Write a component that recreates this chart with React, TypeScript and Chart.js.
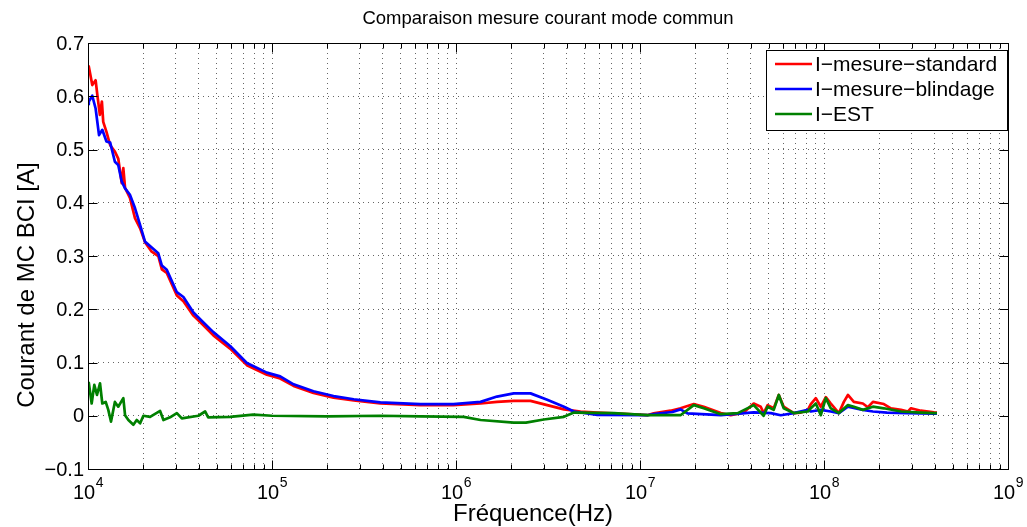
import React, { useEffect, useRef } from "react";
import { Chart, registerables } from "chart.js";

Chart.register(...registerables);

const FONT = "'Liberation Sans', Arial, Helvetica, sans-serif";

const titleText = "Comparaison mesure courant mode commun";
const xAxisLabel = "Fréquence(Hz)";
const yAxisLabel = "Courant de MC BCI [A]";
const seriesNames = ["I−mesure−standard", "I−mesure−blindage", "I−EST"];
const seriesColors = ["#ff0000", "#0000ff", "#008000"];

const xTickExponents = [4, 5, 6, 7, 8, 9];
const yTickValues = [-0.1, 0, 0.1, 0.2, 0.3, 0.4, 0.5, 0.6, 0.7];
const yTickLabels = ["−0.1", "0", "0.1", "0.2", "0.3", "0.4", "0.5", "0.6", "0.7"];

const freqStandard = [1.0e4, 1.01e4, 1.055e4, 1.1e4, 1.13e4, 1.16e4, 1.19e4, 1.21e4, 1.26e4, 1.32e4, 1.4e4, 1.46e4, 1.525e4, 1.556e4, 1.59e4, 1.69e4, 1.8e4, 1.92e4, 2.04e4, 2.22e4, 2.41e4, 2.52e4, 2.68e4, 3.04e4, 3.3e4, 3.74e4, 4.24e4, 4.8e4, 5.92e4, 7.3e4, 9.38e4, 1.108e5, 1.31e5, 1.68e5, 2.16e5, 2.78e5, 3.88e5, 6.4e5, 9.68e5, 1.36e6, 1.67e6, 2.06e6, 2.54e6, 3.13e6, 3.86e6, 4.75e6, 5.86e6, 7.21e6, 1.096e7, 1.186e7, 1.466e7, 1.66e7, 1.96e7, 2.22e7, 2.75e7, 3.11e7, 3.66e7, 4.15e7, 4.53e7, 4.7e7, 4.94e7, 5.33e7, 5.68e7, 6.04e7, 6.85e7, 7.48e7, 8.17e7, 8.48e7, 9.03e7, 9.61e7, 1.023e8, 1.089e8, 1.205e8, 1.282e8, 1.349e8, 1.453e8, 1.626e8, 1.731e8, 1.845e8, 2.115e8, 2.31e8, 2.62e8, 2.86e8, 2.97e8, 3.36e8, 3.96e8, 4.11e8];
const valStandard = [0.652, 0.656, 0.621, 0.630, 0.596, 0.565, 0.590, 0.552, 0.533, 0.508, 0.496, 0.483, 0.437, 0.465, 0.428, 0.409, 0.371, 0.352, 0.326, 0.308, 0.300, 0.275, 0.268, 0.226, 0.215, 0.188, 0.170, 0.151, 0.126, 0.095, 0.077, 0.070, 0.056, 0.043, 0.034, 0.029, 0.023, 0.020, 0.020, 0.023, 0.026, 0.028, 0.028, 0.020, 0.012, 0.008, 0.006, 0.0046, 0.001, 0.0046, 0.0095, 0.014, 0.022, 0.017, 0.005, 0.001, 0.006, 0.023, 0.017, 0.005, 0.020, 0.014, 0.039, 0.017, 0.005, 0.006, 0.011, 0.022, 0.033, 0.017, 0.035, 0.023, 0.005, 0.026, 0.039, 0.026, 0.023, 0.016, 0.026, 0.022, 0.014, 0.011, 0.008, 0.014, 0.0095, 0.0065, 0.006];

const freqShield = [1.0e4, 1.01e4, 1.055e4, 1.1e4, 1.148e4, 1.196e4, 1.26e4, 1.32e4, 1.4e4, 1.46e4, 1.525e4, 1.59e4, 1.69e4, 1.8e4, 1.92e4, 2.04e4, 2.22e4, 2.41e4, 2.52e4, 2.68e4, 3.04e4, 3.3e4, 3.74e4, 4.24e4, 4.8e4, 5.92e4, 7.3e4, 9.38e4, 1.108e5, 1.31e5, 1.68e5, 2.16e5, 2.78e5, 3.88e5, 6.4e5, 9.68e5, 1.36e6, 1.67e6, 2.06e6, 2.54e6, 3.13e6, 3.86e6, 4.37e6, 5.86e6, 1.096e7, 1.186e7, 1.5e7, 1.66e7, 1.81e7, 2.75e7, 4.15e7, 5.14e7, 5.82e7, 6.85e7, 8.17e7, 8.48e7, 9.61e7, 1.089e8, 1.205e8, 1.349e8, 1.626e8, 1.845e8, 2.2e8, 2.86e8, 3.96e8, 4.11e8];
const valShield = [0.585, 0.590, 0.601, 0.577, 0.527, 0.537, 0.515, 0.513, 0.477, 0.471, 0.440, 0.427, 0.415, 0.390, 0.358, 0.327, 0.316, 0.305, 0.282, 0.274, 0.232, 0.223, 0.194, 0.175, 0.157, 0.131, 0.099, 0.081, 0.074, 0.059, 0.046, 0.037, 0.031, 0.025, 0.022, 0.022, 0.026, 0.036, 0.042, 0.042, 0.030, 0.017, 0.008, 0.0014, 0.001, 0.003, 0.007, 0.012, 0.0046, 0.001, 0.0065, 0.005, 0.001, 0.005, 0.011, 0.008, 0.011, 0.008, 0.005, 0.017, 0.011, 0.008, 0.006, 0.005, 0.004, 0.004];

const freqEst = [1.0e4, 1.01e4, 1.047e4, 1.082e4, 1.119e4, 1.162e4, 1.196e4, 1.248e4, 1.289e4, 1.334e4, 1.4e4, 1.46e4, 1.556e4, 1.59e4, 1.657e4, 1.764e4, 1.84e4, 1.92e4, 2.0e4, 2.175e4, 2.465e4, 2.57e4, 2.793e4, 3.04e4, 3.235e4, 3.98e4, 4.33e4, 4.5e4, 5.92e4, 7.9e4, 1.0e5, 2.0e5, 3.88e5, 6.4e5, 1.1e6, 1.36e6, 2.06e6, 2.4e6, 3.0e6, 3.86e6, 4.37e6, 7.21e6, 1.096e7, 1.66e7, 1.96e7, 2.22e7, 2.75e7, 3.4e7, 4.15e7, 4.7e7, 4.94e7, 5.33e7, 5.68e7, 6.04e7, 6.85e7, 8.17e7, 8.48e7, 9.03e7, 9.61e7, 1.023e8, 1.089e8, 1.205e8, 1.349e8, 1.453e8, 1.626e8, 1.845e8, 2.115e8, 2.62e8, 3.36e8, 3.96e8, 4.11e8];
const valEst = [0.055, 0.062, 0.023, 0.058, 0.039, 0.061, 0.023, 0.026, 0.011, -0.011, 0.026, 0.017, 0.033, 0.001, -0.008, -0.017, -0.008, -0.014, 0.000, -0.002, 0.009, -0.008, -0.003, 0.005, -0.005, 0.000, 0.008, -0.003, -0.002, 0.002, 0.000, -0.001, 0.000, -0.001, -0.002, -0.008, -0.013, -0.013, -0.007, -0.002, 0.006, 0.005, 0.001, 0.001, 0.020, 0.014, 0.003, 0.005, 0.020, 0.000, 0.017, 0.011, 0.039, 0.014, 0.005, 0.008, 0.014, 0.023, 0.001, 0.033, 0.014, 0.005, 0.020, 0.017, 0.011, 0.017, 0.014, 0.008, 0.006, 0.005, 0.005];

const zip = (xs: number[], ys: number[]) => xs.map((x, i) => ({ x, y: ys[i] }));

// grid positions for the log axis: 1..9 x 10^e
const xGridValues: { v: number; major: boolean }[] = [];
for (let k = 0; k < xTickExponents.length; k++) {
  const e = xTickExponents[k];
  const last = k === xTickExponents.length - 1;
  for (let m = 1; m <= (last ? 1 : 9); m++) {
    xGridValues.push({ v: m * Math.pow(10, e), major: m === 1 });
  }
}

const matlabFrame = {
  id: "matlabFrame",
  afterDraw(chart: any) {
    const { ctx, chartArea: a, scales } = chart;
    const xs = scales.x;
    const ys = scales.y;
    const L = Math.round(a.left) + 0.5;
    const R = Math.round(a.right) + 0.5;
    const T = Math.round(a.top) + 0.5;
    const B = Math.round(a.bottom) + 0.5;
    ctx.save();
    ctx.strokeStyle = "#000";
    ctx.lineWidth = 1;
    ctx.setLineDash([]);
    ctx.strokeRect(L, T, R - L, B - T);
    ctx.beginPath();
    for (const v of yTickValues) {
      const py = Math.round(ys.getPixelForValue(v)) + 0.5;
      ctx.moveTo(L, py); ctx.lineTo(L + 9, py);
      ctx.moveTo(R, py); ctx.lineTo(R - 9, py);
    }
    for (const g of xGridValues) {
      const px = Math.round(xs.getPixelForValue(g.v)) + 0.5;
      const len = g.major ? 9 : 5;
      ctx.moveTo(px, B); ctx.lineTo(px, B - len);
      ctx.moveTo(px, T); ctx.lineTo(px, T + len);
    }
    ctx.stroke();

    ctx.fillStyle = "#000";
    // y tick labels
    ctx.font = `20px ${FONT}`;
    ctx.textAlign = "right";
    ctx.textBaseline = "middle";
    for (let i = 0; i < yTickValues.length; i++) {
      const py = ys.getPixelForValue(yTickValues[i]);
      ctx.fillText(yTickLabels[i], a.left - 4, py + 1);
    }

    // x tick labels 10^e
    ctx.textBaseline = "alphabetic";
    ctx.textAlign = "left";
    for (const e of xTickExponents) {
      const px = xs.getPixelForValue(Math.pow(10, e));
      ctx.font = `20px ${FONT}`;
      const wb = ctx.measureText("10").width;
      ctx.font = `14px ${FONT}`;
      const we = ctx.measureText(String(e)).width;
      const x0 = px - (wb + we) / 2;
      ctx.font = `20px ${FONT}`;
      ctx.fillText("10", x0, 499);
      ctx.font = `14px ${FONT}`;
      ctx.fillText(String(e), x0 + wb + 0.5, 487);
    }

    // axis titles
    ctx.font = `24px ${FONT}`;
    ctx.textAlign = "center";
    ctx.textBaseline = "middle";
    ctx.fillText(xs.options.title.text, 533, 514);
    ctx.save();
    ctx.translate(27, 285);
    ctx.rotate(-Math.PI / 2);
    ctx.font = `24px ${FONT}`;
    ctx.fillText(ys.options.title.text, 0, 0);
    ctx.restore();

    // legend
    const lw = 241, lh = 80;
    const lx = Math.round(a.right) - 1 - lw;
    const ly = Math.round(a.top) + 7;
    ctx.fillStyle = "#fff";
    ctx.fillRect(lx, ly, lw, lh);
    ctx.strokeStyle = "#000";
    ctx.lineWidth = 1;
    ctx.strokeRect(lx + 0.5, ly + 0.5, lw, lh);
    const ds = chart.data.datasets;
    ctx.textAlign = "left";
    ctx.textBaseline = "middle";
    ctx.font = `21px ${FONT}`;
    for (let i = 0; i < ds.length; i++) {
      const cy = ly + 14 + i * 25;
      ctx.strokeStyle = ds[i].borderColor;
      ctx.lineWidth = 2.7;
      ctx.beginPath();
      ctx.moveTo(lx + 9, cy);
      ctx.lineTo(lx + 46, cy);
      ctx.stroke();
      ctx.fillStyle = "#000";
      ctx.fillText(ds[i].label, lx + 49, cy + 1);
    }
    ctx.restore();
  },
};

export default function App() {
  const ref = useRef<HTMLCanvasElement | null>(null);
  useEffect(() => {
    if (!ref.current) return;
    const seriesX = [freqStandard, freqShield, freqEst];
    const seriesY = [valStandard, valShield, valEst];
    const orders = [2, 1, 0];
    const chart = new Chart(ref.current, {
      type: "line",
      data: {
        datasets: seriesNames.map((name, i) => ({
          label: name,
          data: zip(seriesX[i], seriesY[i]),
          borderColor: seriesColors[i],
          backgroundColor: seriesColors[i],
          borderWidth: 2.7,
          pointRadius: 0,
          tension: 0,
          fill: false,
          order: orders[i],
          borderJoinStyle: "round",
        })),
      },
      options: {
        animation: false,
        responsive: false,
        maintainAspectRatio: false,
        devicePixelRatio: 1,
        events: [],
        layout: { padding: { left: 88, right: 19, top: 0, bottom: 0 } },
        plugins: {
          legend: { display: false },
          tooltip: { enabled: false },
          title: {
            display: true,
            text: titleText,
            color: "#000",
            font: { family: FONT, size: 18.5, weight: "normal" },
            padding: { top: 7.5, bottom: 13.3 },
          },
        },
        scales: {
          x: {
            type: "logarithmic",
            min: 1e4,
            max: 1e9,
            afterBuildTicks: (s: any) => {
              s.ticks = xGridValues.map((g) => ({ value: g.v, major: g.major }));
            },
            afterFit: (s: any) => {
              s.height = 58;
            },
            ticks: { display: false },
            grid: { color: "#666", lineWidth: 1, drawTicks: false },
            border: { display: false, dash: [1, 4] },
            title: { display: false, text: xAxisLabel },
          },
          y: {
            type: "linear",
            min: -0.1,
            max: 0.7,
            afterBuildTicks: (s: any) => {
              s.ticks = yTickValues.map((v) => ({ value: v }));
            },
            afterFit: (s: any) => {
              s.width = 0;
            },
            ticks: { display: false },
            grid: { color: "#666", lineWidth: 1, drawTicks: false },
            border: { display: false, dash: [1, 4] },
            title: { display: false, text: yAxisLabel },
          },
        },
      },
      plugins: [matlabFrame],
    } as any);
    return () => chart.destroy();
  }, []);
  return (
    <div style={{ position: "absolute", left: 0, top: 0, width: 1027, height: 527, background: "#fff" }}>
      <canvas ref={ref} width={1027} height={527} style={{ display: "block" }} />
    </div>
  );
}
